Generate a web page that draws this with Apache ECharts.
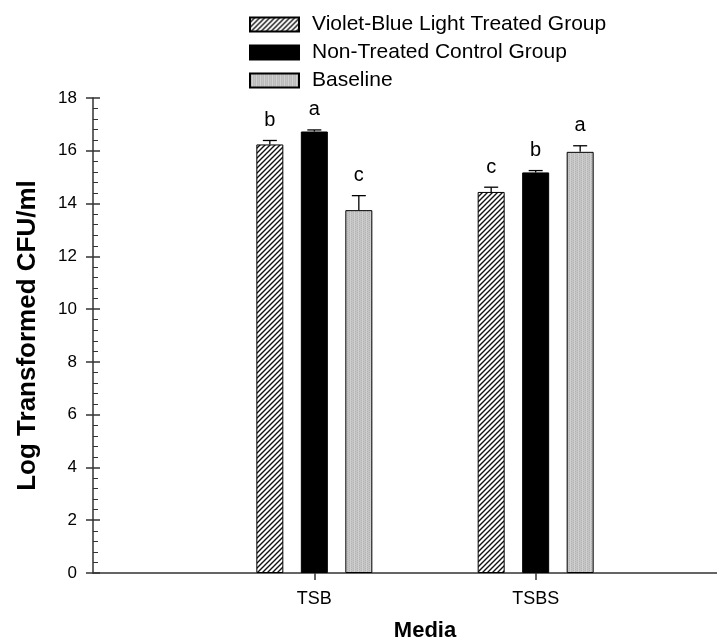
<!DOCTYPE html>
<html>
<head>
<meta charset="utf-8">
<script src="https://cdn.jsdelivr.net/npm/echarts@6/dist/echarts.min.js"></script>
<style>html,body{margin:0;padding:0;background:#fff}#c{width:717px;height:639px}</style>
</head>
<body>
<div id="c"></div>
<script>
// ---- data ----
var categories = ['TSB', 'TSBS'];
var catPositions = [1, 2];
var seriesNames = ['Violet-Blue Light Treated Group', 'Non-Treated Control Group', 'Baseline'];
var treatedValues = [16.24, 14.44];
var treatedErrors = [0.15, 0.18];
var treatedLetters = ['b', 'c'];
var controlValues = [16.73, 15.18];
var controlErrors = [0.06, 0.07];
var controlLetters = ['a', 'b'];
var baselineValues = [13.75, 15.96];
var baselineErrors = [0.55, 0.23];
var baselineLetters = ['c', 'a'];
var yMin = 0, yMax = 18, yInterval = 2;
var xMin = 0, xMax = 3;

// ---- patterns ----
function hatchPattern() {
  var c = document.createElement('canvas'); c.width = 5; c.height = 5;
  var g = c.getContext('2d');
  g.fillStyle = '#fff'; g.fillRect(0, 0, 5, 5);
  g.strokeStyle = '#111'; g.lineWidth = 1.4;
  g.beginPath();
  g.moveTo(-1, 6); g.lineTo(6, -1);
  g.moveTo(-3, 3); g.lineTo(3, -3);
  g.moveTo(2, 8); g.lineTo(8, 2);
  g.stroke();
  return { image: c, repeat: 'repeat' };
}
function grayPattern() {
  var c = document.createElement('canvas'); c.width = 4; c.height = 2;
  var g = c.getContext('2d');
  g.fillStyle = '#c4c4c4'; g.fillRect(0, 0, 4, 2);
  g.fillStyle = '#b3b3b3'; g.fillRect(1, 0, 1, 1); g.fillRect(3, 1, 1, 1);
  g.fillStyle = '#d0d0d0'; g.fillRect(2, 0, 1, 2);
  return { image: c, repeat: 'repeat' };
}
var fills = [hatchPattern(), '#000', grayPattern()];

var allValues = [treatedValues, controlValues, baselineValues];
var allErrors = [treatedErrors, controlErrors, baselineErrors];
var allLetters = [treatedLetters, controlLetters, baselineLetters];

var BAR_W = 27, BAR_GAP = 17.5;
var font = 'Liberation Sans, Arial, sans-serif';
var narrow = 'Liberation Sans Narrow, Arial Narrow, ' + font;
var axisColor = '#333';

var series = [];
seriesNames.forEach(function (name, s) {
  series.push({
    name: name, type: 'bar',
    data: catPositions.map(function (p, i) { return [p, allValues[s][i]]; }),
    barWidth: BAR_W, barGap: (BAR_GAP / BAR_W * 100).toFixed(1) + '%',
    itemStyle: { color: fills[s], borderColor: '#000', borderWidth: 1 },
    emphasis: { disabled: true }, silent: true
  });
});
// error bars + significance letters
var errData = [];
seriesNames.forEach(function (name, s) {
  catPositions.forEach(function (p, i) {
    errData.push([p, allValues[s][i], allErrors[s][i], s, allLetters[s][i]]);
  });
});
series.push({
  type: 'custom', silent: true, clip: false, z: 5,
  data: errData,
  renderItem: function (params, api) {
    var x = api.value(0), v = api.value(1), e = api.value(2), s = api.value(3);
    var letter = errData[params.dataIndex][4];
    var base = api.coord([x, v]);
    var top = api.coord([x, v + e]);
    var cx = base[0] + (s - 1) * (BAR_W + BAR_GAP);
    return {
      type: 'group', children: [
        { type: 'line', shape: { x1: cx, y1: base[1], x2: cx, y2: top[1] }, style: { stroke: '#000', lineWidth: 1.3 } },
        { type: 'line', shape: { x1: cx - 7, y1: top[1], x2: cx + 7, y2: top[1] }, style: { stroke: '#000', lineWidth: 1.3 } },
        { type: 'text', x: cx, y: top[1] - 10, style: { text: letter, textAlign: 'center', textVerticalAlign: 'bottom', font: '20px ' + font, fill: '#000' } }
      ]
    };
  }
});

var chart = echarts.init(document.getElementById('c'), null, { renderer: 'canvas' });
chart.setOption({
  animation: false,
  backgroundColor: '#fff',
  legend: {
    orient: 'vertical', left: 244, top: 9,
    itemWidth: 49, itemHeight: 14, itemGap: 7,
    icon: 'rect',
    textStyle: { fontFamily: font, fontSize: 21, color: '#000', lineHeight: 21, padding: [0, 0, 0, 8] },
    data: seriesNames, selectedMode: false
  },
  grid: { left: 93, right: -40, top: 98, bottom: 66, containLabel: false, outerBoundsMode: 'none' },
  xAxis: {
    type: 'value', min: xMin, max: xMax, interval: 1,
    name: 'Media', nameLocation: 'middle', nameGap: 47,
    nameTextStyle: { fontFamily: narrow, fontWeight: 'bold', fontSize: 22, color: '#000' },
    axisLine: { lineStyle: { color: axisColor, width: 1.5 } },
    axisTick: { show: true, length: 7, customValues: catPositions, lineStyle: { color: axisColor, width: 1.5 } },
    axisLabel: {
      customValues: catPositions, margin: 17,
      fontFamily: narrow, fontSize: 18, color: '#000',
      formatter: function (v) { var k = catPositions.indexOf(v); return k >= 0 ? categories[k] : ''; }
    },
    splitLine: { show: false }
  },
  yAxis: [{
    type: 'value', min: yMin, max: yMax, interval: yInterval, position: 'left',
    name: 'Log Transformed CFU/ml', nameLocation: 'middle', nameGap: 52,
    nameTextStyle: { fontFamily: font, fontWeight: 'bold', fontSize: 26, color: '#000' },
    axisLine: { show: true, lineStyle: { color: axisColor, width: 1.5 } },
    axisTick: { show: true, length: 7, lineStyle: { color: axisColor, width: 1.5 } },
    axisLabel: { margin: 16, fontFamily: font, fontSize: 17, color: '#000' },
    splitLine: { show: false }
  }, {
    type: 'value', min: yMin, max: yMax, interval: yInterval, position: 'left', offset: 0,
    axisLine: { show: false },
    axisTick: { show: true, inside: true, length: 7, lineStyle: { color: axisColor, width: 1.5 } },
    minorTick: { show: true, splitNumber: 5, length: 5, lineStyle: { color: axisColor, width: 1 } },
    axisLabel: { show: false },
    splitLine: { show: false }
  }],
  series: series
});
</script>
</body>
</html>
